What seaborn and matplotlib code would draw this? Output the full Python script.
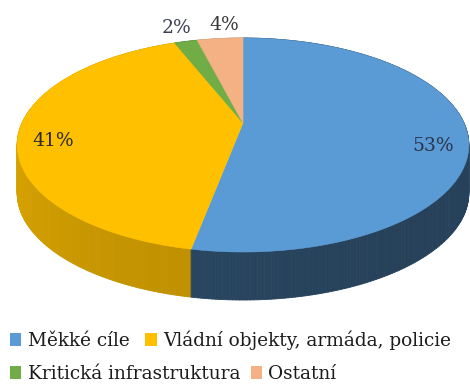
import numpy as np
import matplotlib
matplotlib.use("Agg")
import matplotlib.pyplot as plt
from matplotlib.patches import Polygon, Patch
from matplotlib.collections import PolyCollection
import seaborn as sns

# Struktura cílů útoků
categories = ["Měkké cíle", "Vládní objekty, armáda, policie",
              "Kritická infrastruktura", "Ostatní"]
shares = [53, 41, 2, 4]
pct_labels = ["53%", "41%", "2%", "4%"]
palette = sns.color_palette(["#5B9BD5", "#FFC000", "#70AD47", "#F4B183"])

sns.set_theme(style="white")
plt.rcParams["font.family"] = ["DejaVu Serif", "DejaVu Sans"]

fig = plt.figure(figsize=(4.7, 3.85), dpi=100)
ax = fig.add_axes([0, 0, 1, 1])
ax.set_xlim(0, 470)
ax.set_ylim(385, 0)
ax.axis("off")

# tilted disc seen in perspective (pixel units)
CX, CY = 243, 123
RX = 221
A, C = 77.19, -0.2056
DEPTH = 48
SIDE_SHADE = [0.44, 0.74, 0.62, 0.72]


def project(u, v):
    d = 1 + C * v
    return CX + RX * u / d, (A * v + CY) / d


fr = np.array(shares, dtype=float) / np.sum(shares)
edges = np.concatenate([[0], np.cumsum(fr)]) * 2 * np.pi

# side wall, drawn back to front
quads, qcols, depth_key = [], [], []
for i in range(len(shares)):
    th = np.linspace(edges[i], edges[i + 1], max(4, int(fr[i] * 500)))
    for t0, t1 in zip(th[:-1], th[1:]):
        x0, y0 = project(np.sin(t0), -np.cos(t0))
        x1, y1 = project(np.sin(t1), -np.cos(t1))
        quads.append([(x0, y0), (x1, y1), (x1, y1 + DEPTH), (x0, y0 + DEPTH)])
        um = np.sin(0.5 * (t0 + t1))
        k = SIDE_SHADE[i] * (1.0 - 0.09 * um + 0.06 * um ** 4)
        qcols.append(tuple(np.clip(np.array(palette[i]) * k, 0, 1)))
        depth_key.append(-np.cos(0.5 * (t0 + t1)))
order = np.argsort(depth_key)
ax.add_collection(PolyCollection([quads[j] for j in order],
                                 facecolors=[qcols[j] for j in order],
                                 edgecolors=[qcols[j] for j in order],
                                 linewidths=0.6))

# top faces
for i in range(len(shares)):
    th = np.linspace(edges[i], edges[i + 1], max(4, int(fr[i] * 400)))
    pts = [project(0, 0)] + [project(np.sin(t), -np.cos(t)) for t in th]
    ax.add_patch(Polygon(pts, closed=True, facecolor=palette[i],
                         edgecolor=palette[i], linewidth=0.4))

# percentage labels
label_r = [0.85, 0.85, 1.2, 1.2]
label_nudge = [(0, 15), (0, 10), (0, 0), (8, 0)]
label_col = ["#2b3550", "#2a2a2a", "#3b4150", "#3b3b3b"]
for i, lab in enumerate(pct_labels):
    t = 0.5 * (edges[i] + edges[i + 1])
    x, y = project(label_r[i] * np.sin(t), -label_r[i] * np.cos(t))
    ax.text(x + label_nudge[i][0], y + label_nudge[i][1], lab,
            ha="center", va="center", fontsize=13.5, color=label_col[i])

# legend in two rows
handles = [Patch(facecolor=c, edgecolor="none") for c in palette]
rows = [(0, 2, 340, 0.85), (2, 4, 374, 0.55)]
for a, b, ypix, gap in rows:
    fig.legend(handles[a:b], categories[a:b], ncol=2, frameon=False,
               loc="center left", bbox_to_anchor=(10 / 470, 1 - ypix / 385),
               borderpad=0, borderaxespad=0, handlelength=0.62,
               handleheight=0.75, handletextpad=0.35, columnspacing=gap,
               fontsize=13.3, labelcolor="#1c1c1c")

fig.savefig("out.png", dpi=100, facecolor="white")
